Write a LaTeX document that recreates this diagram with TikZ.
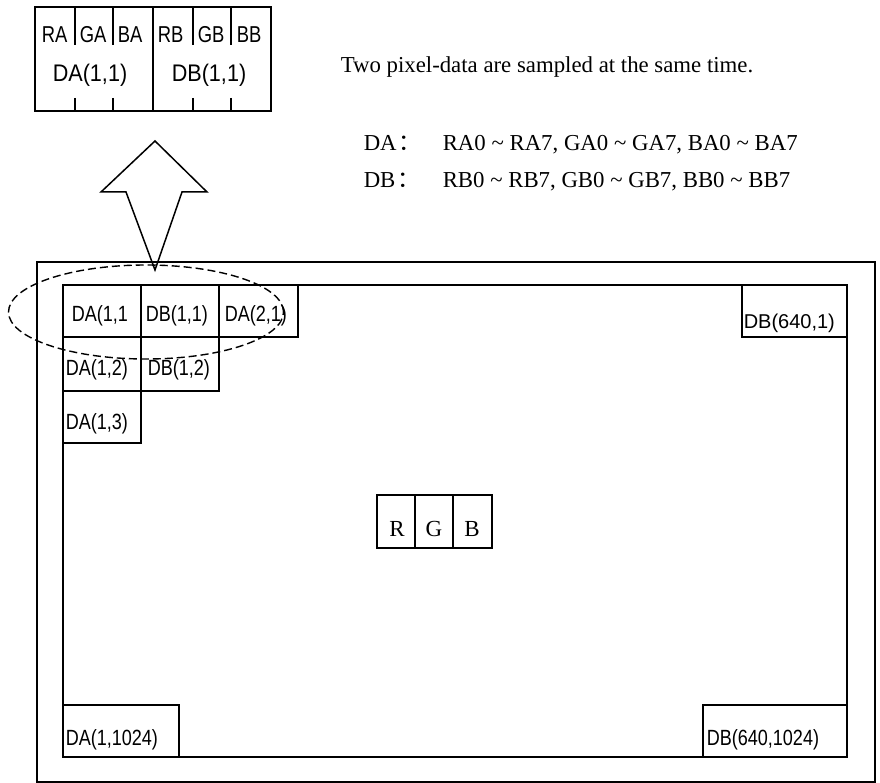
\documentclass[tikz,border=0pt]{standalone}
\usepackage{fontspec}
\setmainfont{Liberation Serif}
\newfontfamily\arialfont{Liberation Sans}
\newfontfamily\narrowsans[FakeStretch=0.82]{Liberation Sans}
\newfontfamily\chanfont[FakeStretch=0.8]{Liberation Sans}
\newfontfamily\topfont[FakeStretch=0.9]{Liberation Sans}
\newfontfamily\cjkfont{Noto Sans CJK SC}
\usetikzlibrary{shapes.geometric}
\begin{document}
\begin{tikzpicture}[x=1pt,y=-1pt,line width=1.5pt,
  box/.style={draw,line width=1.5pt,inner sep=0pt,outer sep=0pt,anchor=north west},
  celltext/.style={inner sep=0pt,anchor=base west,font=\narrowsans\fontsize{22}{22}\selectfont},
  celltextwide/.style={inner sep=0pt,anchor=base west,font=\arialfont\fontsize{20}{20}\selectfont},
  chantext/.style={inner sep=0pt,anchor=base west,font=\chanfont\fontsize{23}{23}\selectfont},
  toptext/.style={inner sep=0pt,anchor=base,font=\topfont\fontsize{24}{24}\selectfont},
  serif/.style={inner sep=0pt,anchor=base west,font=\fontsize{22.8}{24}\selectfont},
  rgbtext/.style={inner sep=0pt,anchor=base,font=\fontsize{23}{24}\selectfont},
  sel/.style={draw,ellipse,dash pattern=on 8pt off 4pt,line width=1.4pt,inner sep=0pt}]
\useasboundingbox (0,0) rectangle (880,783);

% ---------- top pixel-data box ----------
\node[box,minimum width=236pt,minimum height=104pt] (pix) at (35,7) {};
\draw (153,7) -- (153,111);
\foreach \x in {75,113,193,231}{
  \draw (\x,7) -- (\x,45);
  \draw (\x,98) -- (\x,111);
}
\node[chantext] (ra) at (41,43) {RA};
\node[chantext] (ga) at (79,43) {GA};
\node[chantext] (ba) at (117,43) {BA};
\node[chantext] (rb) at (157,43) {RB};
\node[chantext] (gb) at (197,43) {GB};
\node[chantext] (bb) at (236,43) {BB};
\node[toptext] (da11t) at (90,82) {DA(1,1)};
\node[toptext] (db11t) at (209,82) {DB(1,1)};

% ---------- description text ----------
\node[serif] (note) at (340,73) {Two pixel-data are sampled at the same time.};
\node[serif] (dalab) at (363,151) {DA\kern2pt{\cjkfont ：}};
\node[serif] (dadesc) at (442,151) {RA0 \textasciitilde\ RA7, GA0 \textasciitilde\ GA7, BA0 \textasciitilde\ BA7};
\node[serif] (dblab) at (363,188) {DB\kern2pt{\cjkfont ：}};
\node[serif] (dbdesc) at (442,188) {RB0 \textasciitilde\ RB7, GB0 \textasciitilde\ GB7, BB0 \textasciitilde\ BB7};

% ---------- frames ----------
\node[box,minimum width=838pt,minimum height=520pt] (outer) at (37,262) {};
\node[box,minimum width=784pt,minimum height=472pt] (inner) at (63,285) {};

% ---------- cells ----------
\node[box,fill=white,minimum width=78pt,minimum height=52pt] (c11) at (63,285) {};
\node[box,minimum width=78pt,minimum height=52pt] (c21) at (141,285) {};
\node[box,minimum width=79pt,minimum height=52pt] (c31) at (219,285) {};
\node[box,minimum width=78pt,minimum height=54pt] (c12) at (63,337) {};
\node[box,minimum width=78pt,minimum height=54pt] (c22) at (141,337) {};
\node[box,minimum width=78pt,minimum height=52pt] (c13) at (63,391) {};
\node[box,fill=white,minimum width=105pt,minimum height=52pt] (ce1) at (742,285) {};
\node[box,fill=white,minimum width=116pt,minimum height=52pt] (c1e) at (63,705) {};
\node[box,fill=white,minimum width=144pt,minimum height=52pt] (cee) at (703,705) {};

\node[celltext] (t11) at (71,322) {DA(1,1};
\node[celltext] (t21) at (145,322) {DB(1,1)};
\node[celltext] (t31) at (224,322) {DA(2,1)};
\node[celltext] (t12) at (65,375) {DA(1,2)};
\node[celltext] (t22) at (147,375) {DB(1,2)};
\node[celltext] (t13) at (65,429) {DA(1,3)};
\node[celltextwide] (te1) at (743,328) {DB(640,1)};
\node[celltext] (t1e) at (65,745) {DA(1,1024)};
\node[celltext] (tee) at (706,745) {DB(640,1024)};

% ---------- RGB ----------
\node[box,minimum width=38pt,minimum height=53pt] (r) at (377,495) {};
\node[box,minimum width=38pt,minimum height=53pt] (g) at (415,495) {};
\node[box,minimum width=39pt,minimum height=53pt] (b) at (453,495) {};
\node[rgbtext] (rt) at (397,536) {R};
\node[rgbtext] (gt) at (434,536) {G};
\node[rgbtext] (bt) at (472,536) {B};

% ---------- selection ellipse ----------
\node[sel,minimum width=275pt,minimum height=94pt] (selection) at (146,312) {};

% ---------- big arrow ----------
\draw[line width=1.5pt,line join=miter] (155,141) -- (207,192) -- (182,192) -- (155,270)
  -- (126,192) -- (101,192) -- cycle;
\end{tikzpicture}
\end{document}
